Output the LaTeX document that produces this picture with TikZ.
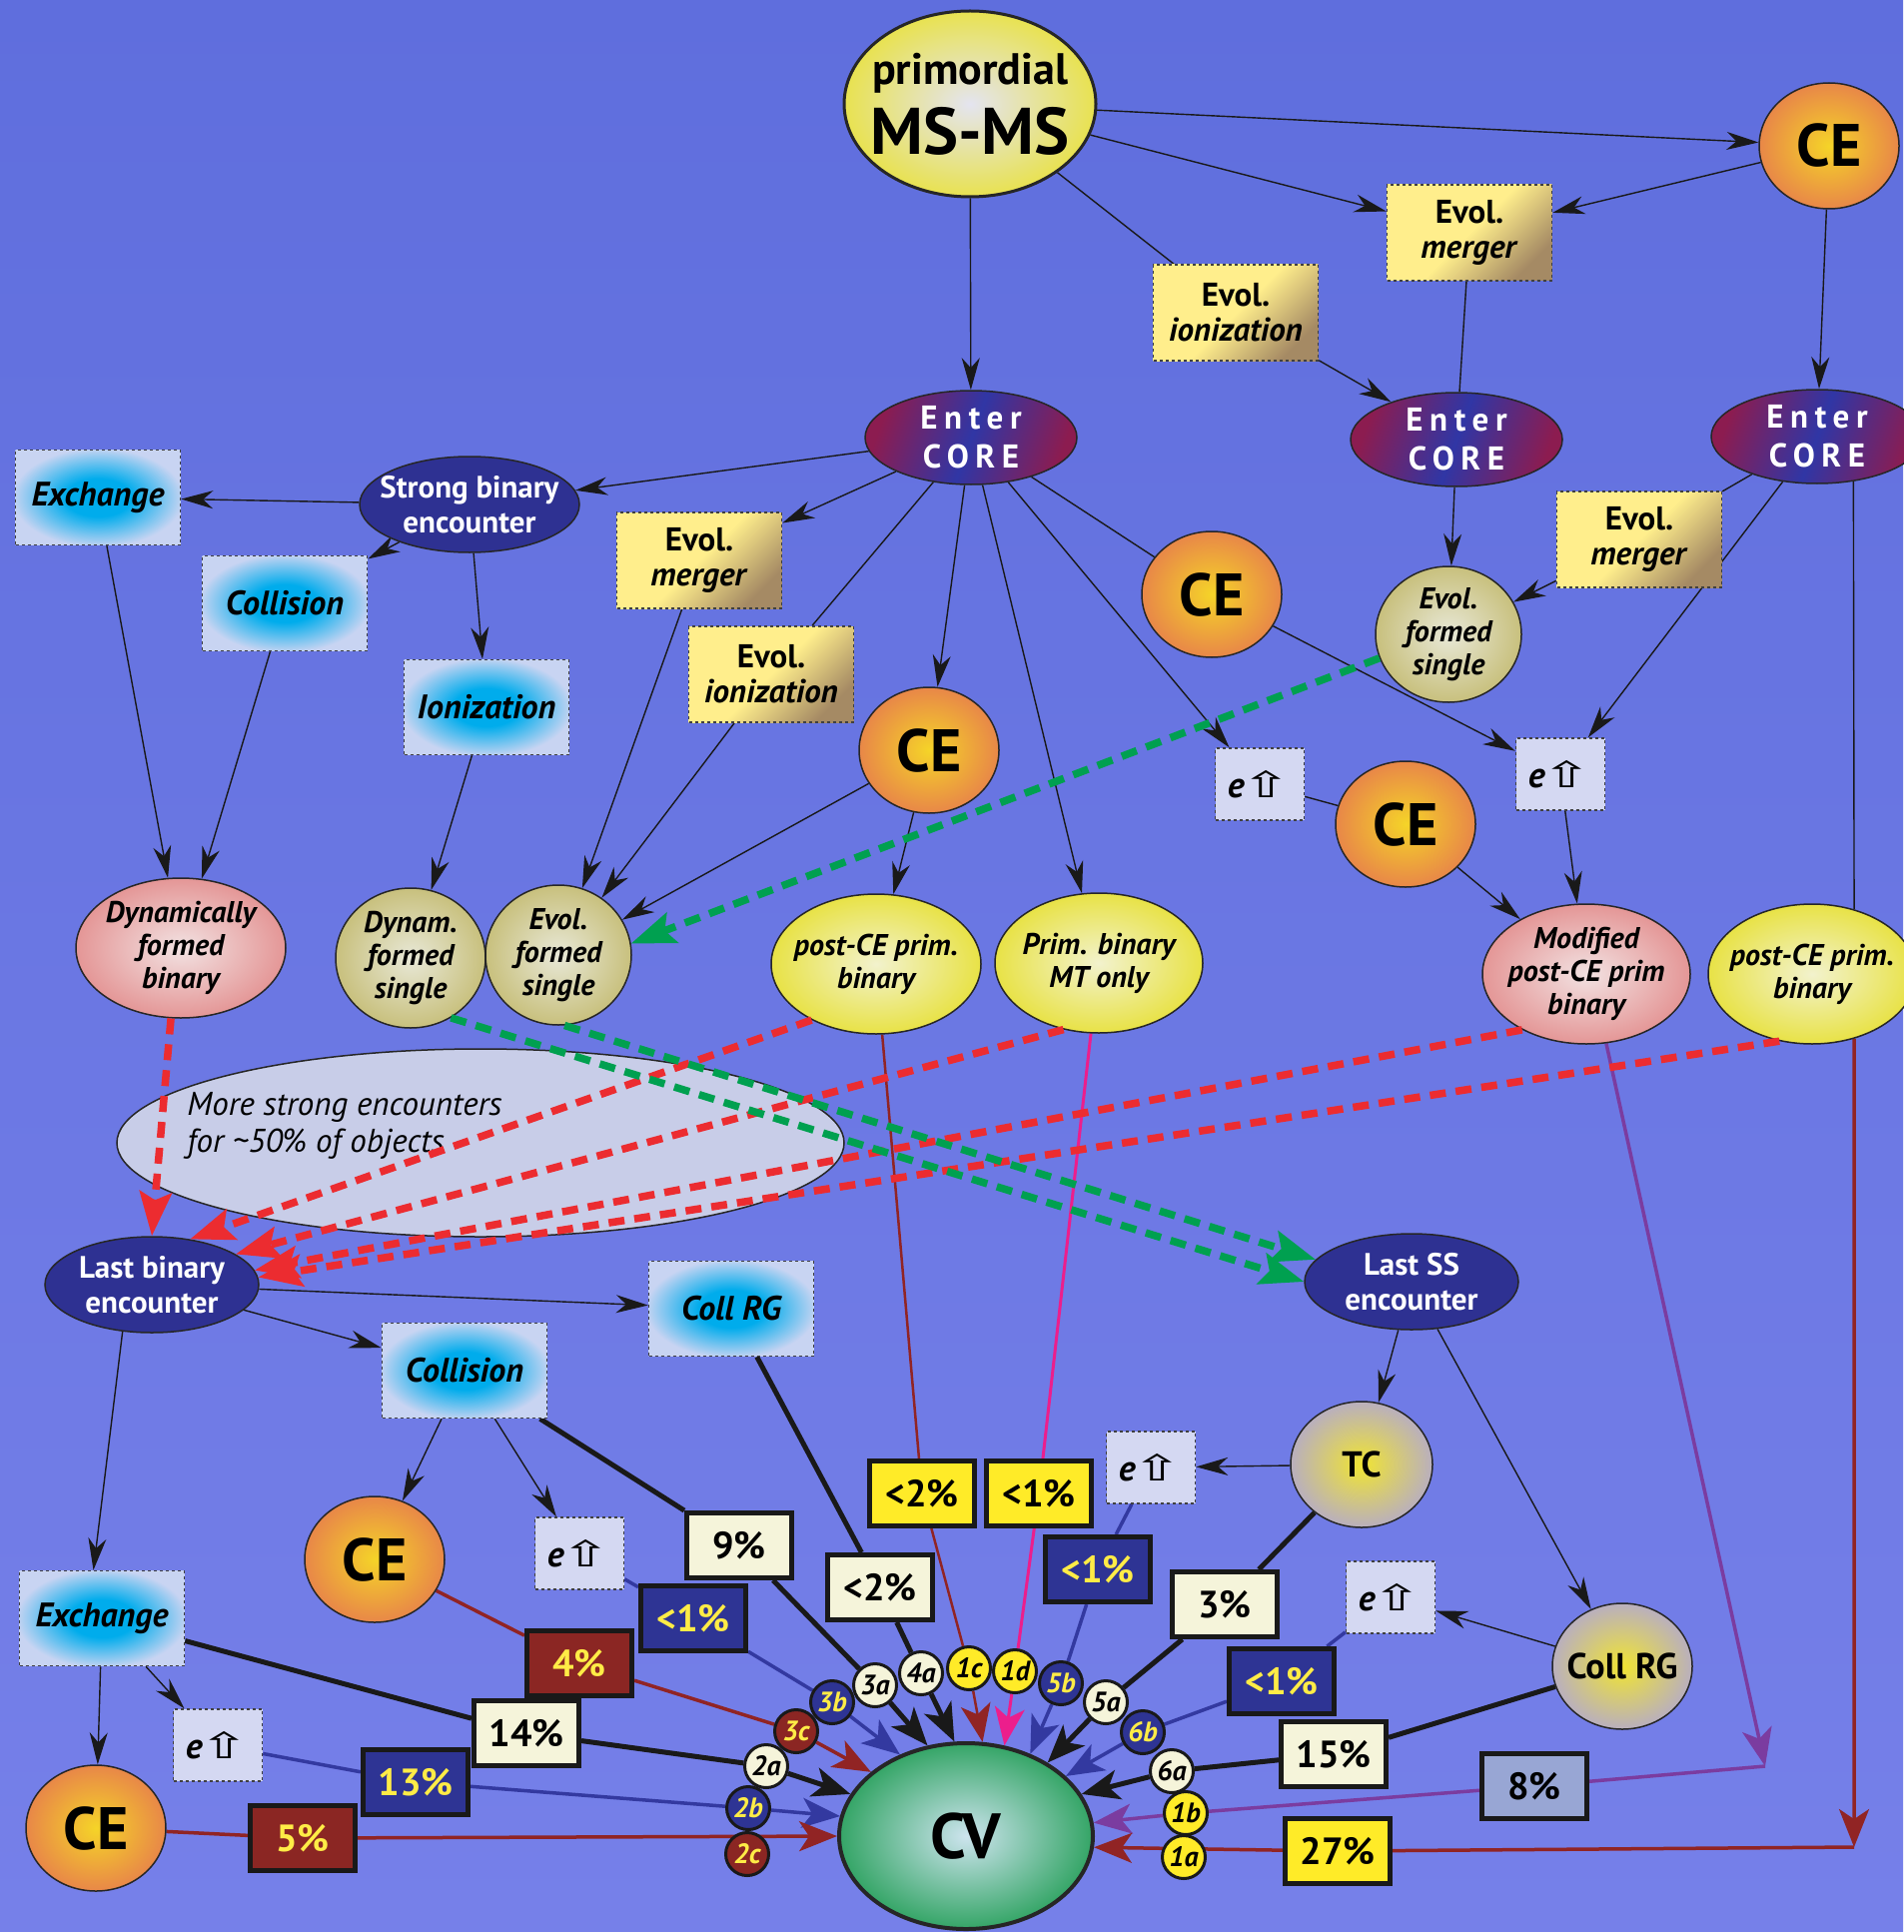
\documentclass[tikz,border=0pt]{standalone}
\usepackage{fontspec}
\usepackage{graphicx}
\setmainfont{PT Sans}
\newfontfamily\symfont{DejaVu Sans}
\usetikzlibrary{arrows.meta,shapes.geometric}
\definecolor{bgtop}{RGB}{95,110,221}
\definecolor{bgbot}{RGB}{118,128,233}
\definecolor{navy}{RGB}{46,49,146}
\definecolor{corered}{RGB}{140,28,80}
\definecolor{coreblue}{RGB}{48,54,165}
\definecolor{ceyellow}{RGB}{245,212,40}
\definecolor{ceorange}{RGB}{232,135,72}
\definecolor{evollight}{RGB}{255,238,140}
\definecolor{evoldark}{RGB}{165,138,100}
\definecolor{actcyan}{RGB}{0,172,236}
\definecolor{actpale}{RGB}{200,212,242}
\definecolor{efill}{RGB}{212,216,242}
\definecolor{khakiin}{RGB}{232,232,215}
\definecolor{khakiout}{RGB}{200,192,125}
\definecolor{yelin}{RGB}{242,242,205}
\definecolor{yelout}{RGB}{232,226,70}
\definecolor{pinkin}{RGB}{242,226,226}
\definecolor{pinkout}{RGB}{228,150,150}
\definecolor{greyin}{RGB}{240,228,50}
\definecolor{greyout}{RGB}{185,175,190}
\definecolor{cvin}{RGB}{205,228,238}
\definecolor{cvout}{RGB}{52,165,102}
\definecolor{primin}{RGB}{228,228,240}
\definecolor{primout}{RGB}{232,226,80}
\definecolor{morefill}{RGB}{200,205,232}
\definecolor{cream}{RGB}{245,244,218}
\definecolor{pctblue}{RGB}{46,52,148}
\definecolor{pctred}{RGB}{139,38,35}
\definecolor{pctyel}{RGB}{255,235,40}
\definecolor{pctgrey}{RGB}{152,166,212}
\definecolor{txtyel}{RGB}{255,236,70}
\definecolor{linered}{RGB}{145,36,36}
\definecolor{linemag}{RGB}{236,30,140}
\definecolor{lineblue}{RGB}{51,57,160}
\definecolor{linepurple}{RGB}{123,60,160}
\definecolor{dashred}{RGB}{236,44,48}
\definecolor{dashgreen}{RGB}{0,160,80}
\newcommand\fsz[2]{\fontsize{#1}{#2}\selectfont}
\pgfdeclareradialshading{actshade}{\pgfpoint{0bp}{0bp}}{color(0bp)=(actcyan); color(10bp)=(actcyan); color(26bp)=(actpale); color(50bp)=(actpale)}
\pgfdeclarelayer{background}
\pgfdeclarelayer{edges}
\pgfdeclarelayer{front}
\pgfsetlayers{background,edges,main,front}
\tikzset{
  flow/.style={line width=1.4pt, draw=black!90, -{Stealth[length=32pt,width=18pt,inset=10pt]}},
  plain/.style={line width=1.4pt, draw=black!90},
  fatblack/.style={line width=5pt, draw=black!90, -{Stealth[length=38pt,width=30pt,inset=10pt]}},
  fatred/.style={fatblack, line width=3.5pt, draw=linered},
  fatblue/.style={fatblack, line width=3.5pt, draw=lineblue},
  fatpurple/.style={fatblack, line width=3.5pt, draw=linepurple},
  fatmag/.style={fatblack, line width=3pt, draw=linemag},
  fatdark/.style={fatblack, line width=2.5pt, draw=linered},
  dashredline/.style={draw=dashred, line width=7.5pt, dash pattern=on 16pt off 10pt, -{Stealth[length=44pt,width=32pt,inset=8pt]}},
  dashgreenline/.style={dashredline, draw=dashgreen},
  ell/.style={ellipse, draw=black!85, line width=1.5pt, inner xsep=-20pt, inner ysep=-12pt, align=center},
  primell/.style={ell, line width=3pt, inner color=primin, outer color=primout, minimum width=252pt, minimum height=186pt, font=\fsz{44}{70}\bfseries},
  ce/.style={ell, inner color=ceyellow, outer color=ceorange, minimum width=140pt, minimum height=126pt, font=\fsz{60}{60}\bfseries},
  core/.style={ell, left color=corered, right color=corered, middle color=coreblue, shading angle=70, minimum width=212pt, minimum height=94pt, text=white, font={\fsz{33}{39}\bfseries\addfontfeatures{LetterSpace=20}}},
  navyell/.style={ell, fill=navy, text=white, minimum width=214pt, minimum height=96pt, font=\fsz{31}{35}\bfseries},
  khakiell/.style={ell, inner color=khakiin, outer color=khakiout, minimum width=146pt, minimum height=140pt, font=\fsz{30}{33}\bfseries\itshape},
  yelell/.style={ell, inner color=yelin, outer color=yelout, minimum width=208pt, minimum height=140pt, font=\fsz{30}{33}\bfseries\itshape},
  pinkell/.style={ell, inner color=pinkin, outer color=pinkout, minimum width=208pt, minimum height=140pt, font=\fsz{30}{33}\bfseries\itshape},
  greyell/.style={ell, inner color=greyin, outer color=greyout, minimum width=142pt, minimum height=126pt, font=\fsz{36}{36}\bfseries},
  cvell/.style={ell, line width=4pt, inner color=cvin, outer color=cvout, minimum width=254pt, minimum height=186pt, font=\fsz{64}{64}\bfseries},
  moreell/.style={ellipse, draw=black!85, line width=1.5pt, fill=morefill, minimum width=728pt, minimum height=188pt},
  evolbox/.style={rectangle, draw=black!75, line width=1.5pt, dashed, top color=evollight, bottom color=evoldark, middle color=evollight, shading angle=45, minimum width=165pt, minimum height=96pt, align=center, font=\fsz{33}{35}\bfseries},
  actbox/.style={rectangle, draw=black!75, line width=1.5pt, dashed, shading=actshade, minimum width=165pt, minimum height=95pt, font=\fsz{34}{34}\bfseries\itshape},
  ebox/.style={rectangle, draw=black!75, line width=1.5pt, dashed, fill=efill, minimum width=89pt, minimum height=72pt, font=\fsz{36}{36}\bfseries\itshape},
  pct/.style={rectangle, draw=black!90, line width=5pt, minimum width=105pt, minimum height=65pt, inner sep=0pt, font=\fsz{38}{38}\bfseries},
  pctcream/.style={pct, fill=cream},
  pctyellow/.style={pct, fill=pctyel},
  pctnavy/.style={pct, fill=pctblue, text=txtyel},
  pctmaroon/.style={pct, fill=pctred, text=txtyel},
  pctslate/.style={pct, fill=pctgrey},
  tag/.style={circle, draw=black!90, line width=3pt, minimum size=43pt, inner sep=0pt, font=\fsz{28}{28}\bfseries\itshape},
  tagcream/.style={tag, fill=cream},
  tagyel/.style={tag, fill=pctyel},
  tagblue/.style={tag, fill=pctblue, text=txtyel},
  tagred/.style={tag, fill=pctred, text=txtyel}
}
\newcommand\eup{e\kern-3pt\scalebox{2.0}[1.2]{\symfont\upshape\mdseries\fsz{30}{30}⇧}}
\begin{document}
\begin{tikzpicture}[x=1pt,y=-1pt]
\useasboundingbox (0,0) rectangle (1905,1934);
\begin{pgfonlayer}{background}
  \fill[top color=bgtop, bottom color=bgbot] (0,0) rectangle (1905,1934);
\end{pgfonlayer}

% upper part
\node[primell] (prim) at (971,104) {primordial\\{\fsz{66}{66}MS-MS}};
\node[ce] (ceA) at (1831,146) {CE};
\node[evolbox] (mergeA) at (1471,233) {Evol.\\\textit{merger}};
\node[evolbox] (ionA) at (1237,313) {Evol.\\\textit{ionization}};
\node[core] (coreA) at (972,438) {Enter\\CORE};
\node[core] (coreB) at (1458,440) {Enter\\CORE};
\node[core] (coreC) at (1819,437) {Enter\\CORE};
\node[navyell, minimum width=220pt] (strong) at (470,505) {Strong binary\\encounter};
\node[actbox] (exchA) at (98,498) {Exchange};
\node[actbox] (collA) at (285,604) {Collision};
\node[actbox] (ioniz) at (487,708) {Ionization};
\node[evolbox] (mergeB) at (700,561) {Evol.\\\textit{merger}};
\node[evolbox] (ionB) at (772,675) {Evol.\\\textit{ionization}};
\node[ce] (ceB) at (1213,595) {CE};
\node[khakiell, minimum height=136pt] (singleR) at (1450,635) {Evol.\\formed\\single};
\node[evolbox] (mergeC) at (1641,540) {Evol.\\\textit{merger}};
\node[ce] (ceC) at (930,751) {CE};
\node[ebox] (eA) at (1261,785) {\eup};
\node[ce] (ceD) at (1407,825) {CE};
\node[ebox] (eB) at (1562,775) {\eup};

% binaries and singles
\node[pinkell, minimum width=210pt] (dynbin) at (181,949) {Dynamically\\formed\\binary};
\node[khakiell, minimum width=150pt] (dynsingle) at (411,959) {Dynam.\\formed\\single};
\node[khakiell] (singleL) at (559,956) {Evol.\\formed\\single};
\node[yelell, minimum width=210pt] (postce) at (877,965) {post-CE prim.\\binary};
\node[yelell] (mtonly) at (1100,964) {Prim. binary\\MT only};
\node[pinkell] (modif) at (1588,975) {Modified\\post-CE prim\\binary};
\node[yelell] (postceR) at (1814,975) {post-CE prim.\\binary};
\node[moreell] (more) at (481,1144) {};
\node[align=left, font=\fsz{33}{37}\itshape] (moretxt) at (345,1127) {More strong encounters\\for \textasciitilde50\% of objects};

% last encounters
\node[navyell] (lastbin) at (152,1286) {Last binary\\encounter};
\node[navyell] (lastss) at (1413,1283) {Last SS\\encounter};
\node[actbox] (collrgA) at (732,1310) {Coll RG};
\node[actbox] (collB) at (465,1372) {Collision};
\node[actbox] (exchB) at (102,1620) {Exchange};
\node[ce] (ceE) at (375,1561) {CE};
\node[ebox] (eC) at (580,1555) {\eup};
\node[ebox] (eD) at (218,1747) {\eup};
\node[ce] (ceF) at (96,1830) {CE};
\node[greyell] (tc) at (1363,1466) {TC};
\node[ebox] (eE) at (1152,1469) {\eup};
\node[ebox] (eF) at (1392,1599) {\eup};
\node[greyell, minimum width=140pt] (collrgB) at (1624,1668) {Coll RG};
\node[cvell] (cv) at (967,1838) {CV};
\coordinate (cornerP) at (1767,1768);
\coordinate (cornerR) at (1856,1849);

% percentages
\node[pctcream] (p9) at (740,1547) {9\%};
\node[pctcream] (p2a) at (881,1589) {<2\%};
\node[pctyellow] (p2b) at (923,1495) {<2\%};
\node[pctyellow] (p1a) at (1040,1495) {<1\%};
\node[pctnavy] (p1b) at (1099,1571) {<1\%};
\node[pctcream] (p3) at (1226,1606) {3\%};
\node[pctnavy] (p1c) at (1283,1683) {<1\%};
\node[pctcream] (p15) at (1335,1756) {15\%};
\node[pctslate] (p8) at (1536,1788) {8\%};
\node[pctyellow] (p27) at (1339,1853) {27\%};
\node[pctnavy] (p1d) at (694,1620) {<1\%};
\node[pctmaroon] (p4) at (580,1665) {4\%};
\node[pctcream] (p14) at (527,1735) {14\%};
\node[pctnavy] (p13) at (416,1784) {13\%};
\node[pctmaroon] (p5) at (303,1840) {5\%};

% channel tags
\node[tagcream] (t3a) at (876,1687) {3a};
\node[tagcream] (t4a) at (922,1675) {4a};
\node[tagyel] (t1c) at (970,1670) {1c};
\node[tagyel] (t1d) at (1016,1673) {1d};
\node[tagblue] (t5b) at (1062,1685) {5b};
\node[tagcream] (t5a) at (1107,1704) {5a};
\node[tagblue] (t6b) at (1144,1734) {6b};
\node[tagcream] (t6a) at (1173,1773) {6a};
\node[tagyel] (t1b) at (1187,1815) {1b};
\node[tagyel] (t1a) at (1185,1859) {1a};
\node[tagblue] (t3b) at (833,1704) {3b};
\node[tagred] (t3c) at (797,1733) {3c};
\node[tagcream] (t2a) at (767,1768) {2a};
\node[tagblue] (t2b) at (749,1810) {2b};
\node[tagred] (t2c) at (748,1856) {2c};

\begin{pgfonlayer}{edges}
  \draw[flow] (prim) -- (coreA);
  \draw[flow] (prim) -- (ceA);
  \draw[flow] (prim) -- (mergeA);
  \draw[plain] (prim) -- (ionA);
  \draw[flow] (ionA) -- (coreB);
  \draw[flow] (ceA) -- (mergeA);
  \draw[plain] (mergeA) -- (coreB);
  \draw[flow] (ceA) -- (coreC);
  \draw[flow] (coreB) -- (singleR);
  \draw[plain] (coreC) -- (mergeC);
  \draw[flow] (mergeC) -- (singleR);
  \draw[flow] (coreC) -- (eB);
  \draw[plain] (coreC.-51) -- (postceR.57);
  \draw[flow] (coreA) -- (strong);
  \draw[flow] (coreA) -- (mergeB);
  \draw[flow] (mergeB) -- (singleL);
  \draw[plain] (coreA) -- (ionB);
  \draw[flow] (ionB) -- (singleL);
  \draw[flow] (coreA) -- (ceC);
  \draw[flow] (coreA) -- (mtonly);
  \draw[flow] (coreA) -- (eA);
  \draw[plain] (coreA) -- (ceB);
  \draw[flow] (ceB) -- (eB);
  \draw[plain] (eA) -- (ceD);
  \draw[flow] (ceD) -- (modif);
  \draw[flow] (eB) -- (modif);
  \draw[flow] (ceC) -- (singleL);
  \draw[flow] (ceC) -- (postce);
  \draw[flow] (strong) -- (exchA);
  \draw[flow] (strong) -- (collA);
  \draw[flow] (strong) -- (ioniz);
  \draw[flow] (exchA) -- (dynbin);
  \draw[flow] (collA) -- (dynbin);
  \draw[flow] (ioniz) -- (dynsingle);
  \draw[flow] (lastbin) -- (collrgA);
  \draw[flow] (lastbin) -- (collB);
  \draw[flow] (lastbin.-122) -- (exchB.100);
  \draw[flow] (collB) -- (ceE);
  \draw[flow] (collB) -- (eC);
  \draw[flow] (exchB) -- (ceF);
  \draw[flow] (exchB) -- (eD);
  \draw[flow] (lastss) -- (tc);
  \draw[flow] (lastss) -- (collrgB);
  \draw[flow] (tc) -- (eE);
  \draw[flow] (collrgB) -- (eF);
  % channels into CV
  \draw[fatblack] (collB) -- (p9) -- (t3a) -- (cv.113);
  \draw[fatblack] (collrgA) -- (p2a) -- (t4a) -- (cv.97);
  \draw[fatdark] (postce) -- (p2b) -- (t1c) -- (cv.80);
  \draw[fatmag] (mtonly) -- (p1a) -- (t1d) -- (cv.67);
  \draw[fatblue] (eE) -- (p1b) -- (t5b) -- (cv.52);
  \draw[fatblack] (tc) -- (p3) -- (t5a) -- (cv.42);
  \draw[fatblue] (eF) -- (p1c) -- (t6b) -- (cv.31);
  \draw[fatblack] (collrgB) -- (p15) -- (t6a) -- (cv.20);
  \draw[fatpurple] (modif.-74) -- (cornerP);
  \draw[fatpurple] (cornerP) -- (p8) -- (t1b) -- (cv.6);
  \draw[fatred] (postceR.-57) -- (cornerR);
  \draw[fatred] (cornerR) -- (p27) -- (cv.-5);
  \draw[fatblack] (exchB) -- (p14) -- (t2a) -- (cv.160);
  \draw[fatblue] (eD) -- (p13) -- (t2b) -- (cv.171);
  \draw[fatred] (ceF) -- (p5) -- (cv.180);
  \draw[fatred] (ceE) -- (p4) -- (t3c) -- (cv.146);
  \draw[fatblue] (eC) -- (p1d) -- (t3b) -- (cv.129);
\end{pgfonlayer}

\begin{pgfonlayer}{front}
  \draw[dashredline] (dynbin.-98) -- (lastbin.90);
  \draw[dashredline] (postce.-139) -- (lastbin.50);
  \draw[dashredline] (mtonly.-118) -- (lastbin.20);
  \draw[dashredline] (modif.-139) -- (lastbin.8);
  \draw[dashredline] (postceR.-116) -- (lastbin.4);
  \draw[dashgreenline] (singleR.-161) -- (singleL.9);
  \draw[dashgreenline] (dynsingle.-56) -- (lastss.180);
  \draw[dashgreenline] (singleL.-85) -- (lastss.167);
\end{pgfonlayer}
\end{tikzpicture}
\end{document}
